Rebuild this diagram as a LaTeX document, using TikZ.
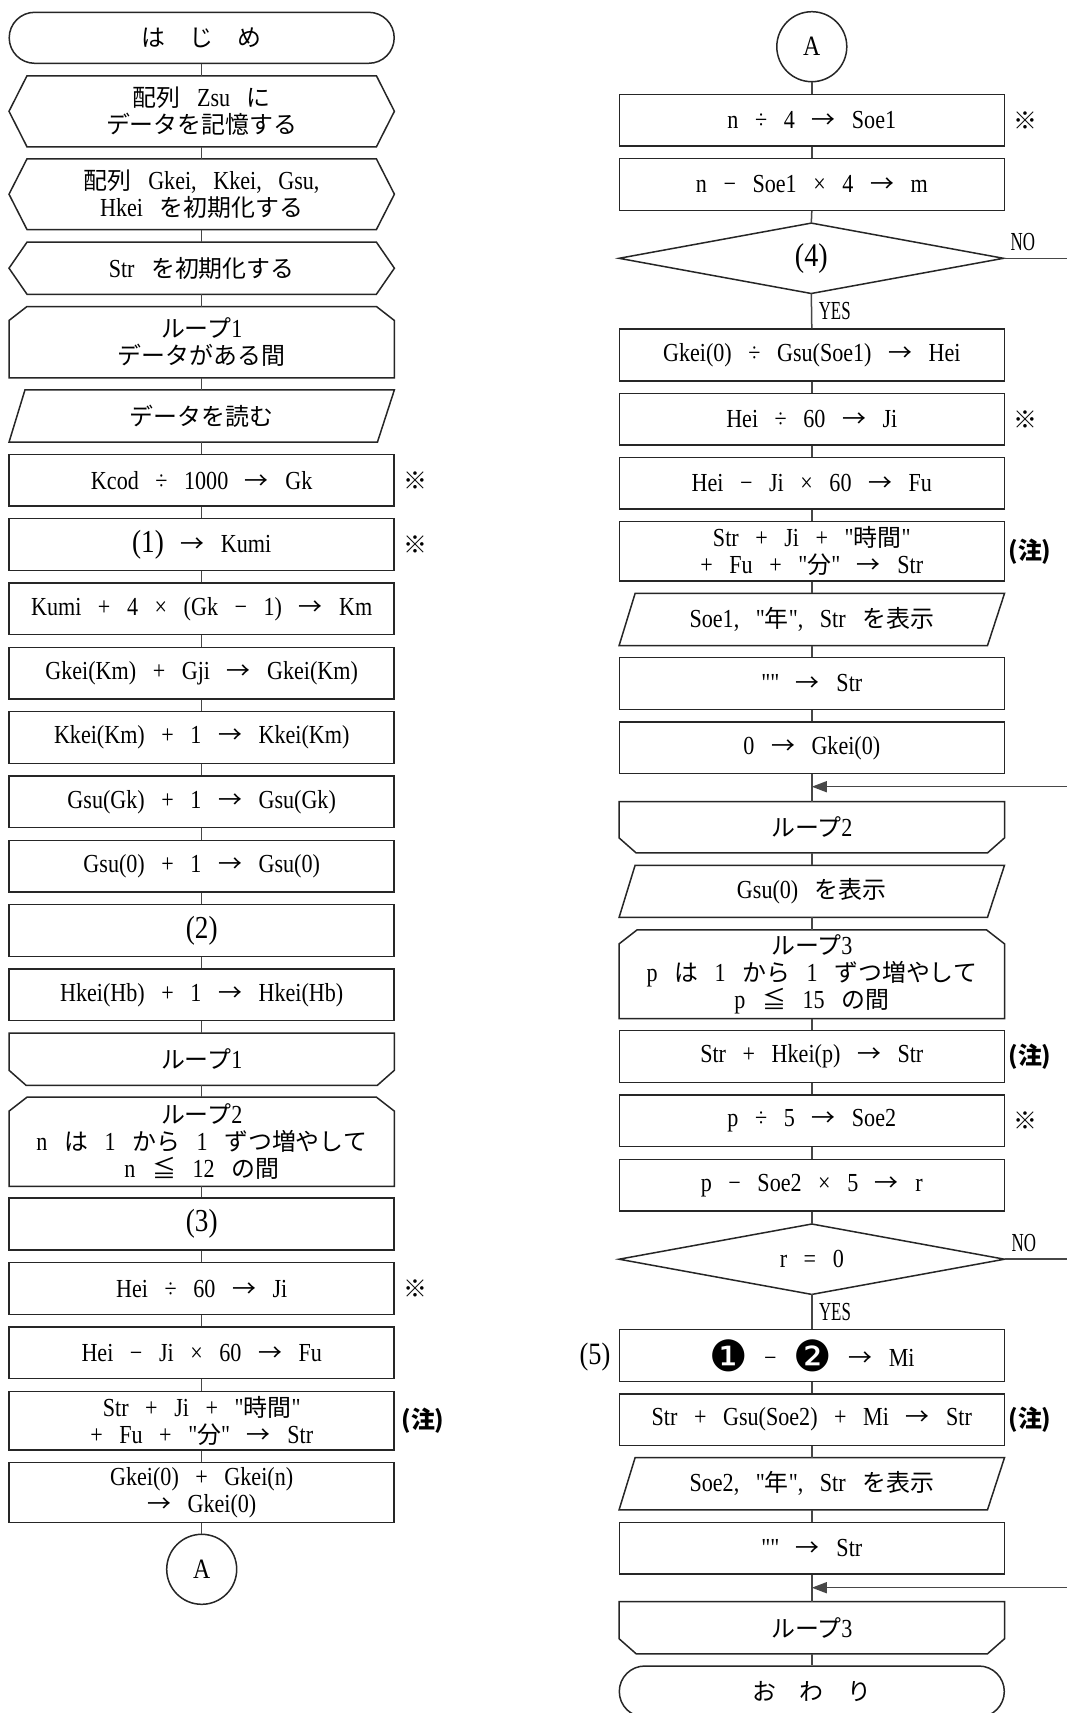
\documentclass[tikz,border=0pt]{standalone}
\usepackage{fontspec}
\setmainfont[FakeStretch=0.85,WordSpace=3,Ligatures=TeXOff]{Liberation Serif}
\newfontfamily\cjk[Scale=0.92]{Noto Sans CJK JP}
\newfontfamily\condf[FakeStretch=0.65]{Liberation Serif}
\newfontfamily\dingf{DejaVu Sans}
\usetikzlibrary{arrows.meta,calc}
\newcommand\jp[1]{{\cjk #1}}
\newcommand\ar{{\cjk →}}
\newcommand\dingnum[1]{\raisebox{-5pt}{\dingf\fontsize{43}{43}\selectfont #1}}
\newcommand\bignum[1]{{\fontsize{32}{32}\selectfont #1}}
\newcommand\shapeHex[1]{\draw[boxline] (#1.west) -- ([xshift=18pt]#1.north west) -- ([xshift=-18pt]#1.north east) -- (#1.east) -- ([xshift=-18pt]#1.south east) -- ([xshift=18pt]#1.south west) -- cycle;}
\newcommand\shapePar[1]{\draw[boxline] (#1.south west) -- ([xshift=16pt]#1.north west) -- (#1.north east) -- ([xshift=-17pt]#1.south east) -- cycle;}
\newcommand\shapeLoopS[1]{\draw[boxline] ([yshift=-14pt]#1.north west) -- ([xshift=18pt]#1.north west) -- ([xshift=-18pt]#1.north east) -- ([yshift=-14pt]#1.north east) -- (#1.south east) -- (#1.south west) -- cycle;}
\newcommand\shapeLoopE[1]{\draw[boxline] (#1.north west) -- (#1.north east) -- ([yshift=15pt]#1.south east) -- ([xshift=-17pt]#1.south east) -- ([xshift=17pt]#1.south west) -- ([yshift=15pt]#1.south west) -- cycle;}
\newcommand\shapeDia[1]{\draw[boxline] (#1.west) -- (#1.north) -- (#1.east) -- (#1.south) -- cycle;}
\tikzset{
  boxline/.style={draw=black!85, line width=1.5pt},
  conn/.style={draw=black!72, line width=1.5pt},
  blk/.style={inner sep=0pt, minimum width=385pt, minimum height=51.7pt, align=center, font={\fontsize{26}{27}\selectfont}},
  proc/.style={blk, boxline},
  term/.style={blk, boxline, rounded corners=25.5pt, minimum height=51pt},
  onpage/.style={circle, boxline, minimum size=70pt, inner sep=0pt, font={\fontsize{28}{28}\selectfont}},
  kome/.style={inner sep=0pt, font={\cjk\fontsize{26}{26}\selectfont}},
  chu/.style={inner sep=0pt, font={\cjk\bfseries\fontsize{26}{26}\selectfont}},
  yn/.style={inner sep=0pt, font={\condf\fontsize{26}{26}\selectfont}},
  retarrow/.style={conn, -{Triangle[length=15pt,width=11pt]}},
}
\begin{document}
\begin{tikzpicture}[x=1pt,y=-1pt]
\useasboundingbox[fill=white] (0,0) rectangle (1067,1713);
\coordinate (rim) at (1067,0);
% ---------------- left column ----------------
\node[term] (start) at (201.7,37.8) {\jp{は　じ　め}};
\node[blk, minimum height=70.7pt] (prep1) at (201.7,111.3) {\jp{配列} Zsu \jp{に}\\\jp{データを記憶する}};
\node[blk, minimum height=70.3pt] (prep2) at (201.7,194.2) {\jp{配列} Gkei, Kkei, Gsu,\\Hkei \jp{を初期化する}};
\node[blk] (prep3) at (201.7,268.2) {Str \jp{を初期化する}};
\node[blk, minimum height=71pt] (loop1s) at (201.7,342.2) {\jp{ループ}1\\\jp{データがある間}};
\node[blk, minimum height=52pt] (read) at (201.7,416) {\jp{データを読む}};
\node[proc] (kcod) at (201.7,480.2) {Kcod ÷ 1000 \ar{} Gk};
\node[proc] (kumi1) at (201.7,544.5) {\bignum{(1)} \ar{} Kumi};
\node[proc] (km) at (201.7,608.8) {Kumi + 4 × (Gk − 1) \ar{} Km};
\node[proc] (gkei) at (201.7,673.2) {Gkei(Km) + Gji \ar{} Gkei(Km)};
\node[proc] (kkei) at (201.7,737.5) {Kkei(Km) + 1 \ar{} Kkei(Km)};
\node[proc] (gsugk) at (201.7,801.8) {Gsu(Gk) + 1 \ar{} Gsu(Gk)};
\node[proc] (gsu0) at (201.7,866.2) {Gsu(0) + 1 \ar{} Gsu(0)};
\node[proc] (b2) at (201.7,930.5) {\bignum{(2)}};
\node[proc] (hkei) at (201.7,994.8) {Hkei(Hb) + 1 \ar{} Hkei(Hb)};
\node[blk] (loop1e) at (201.7,1059.2) {\jp{ループ}1};
\node[blk, minimum height=88.7pt] (loop2s) at (201.7,1141.7) {\jp{ループ}2\\n \jp{は} 1 \jp{から} 1 \jp{ずつ増やして}\\n \jp{≦} 12 \jp{の間}};
\node[proc] (b3) at (201.7,1224) {\bignum{(3)}};
\node[proc] (hei) at (201.7,1288.5) {Hei ÷ 60 \ar{} Ji};
\node[proc] (heiji) at (201.7,1352.8) {Hei − Ji × 60 \ar{} Fu};
\node[proc, minimum height=58.7pt] (strji) at (201.7,1420.7) {Str + Ji + "\jp{時間}"\\+ Fu + "\jp{分}" \ar{} Str};
\node[proc, minimum height=59.6pt] (gkeisum) at (201.7,1492.5) {Gkei(0) + Gkei(n)\\\ar{} Gkei(0)};
\node[onpage] (ca) at (201.7,1569.3) {A};
\shapeHex{prep1}\shapeHex{prep2}\shapeHex{prep3}
\shapeLoopS{loop1s}\shapeLoopS{loop2s}\shapeLoopE{loop1e}
\shapePar{read}
\foreach \a/\b in {start/prep1,prep1/prep2,prep2/prep3,prep3/loop1s,loop1s/read,read/kcod,kcod/kumi1,kumi1/km,km/gkei,gkei/kkei,kkei/gsugk,gsugk/gsu0,gsu0/b2,b2/hkei,hkei/loop1e,loop1e/loop2s,loop2s/b3,b3/hei,hei/heiji,heiji/strji,strji/gkeisum,gkeisum/ca}
  \draw[conn] (\a.south) -- (\b.north);
\node[kome] (m1) at (415.7,480.2) {※};
\node[kome] (m2) at (415.7,544.5) {※};
\node[kome] (m3) at (415.7,1288.5) {※};
\node[chu] (c1) at (423,1421) {(注)};
% ---------------- right column ----------------
\node[onpage] (cb) at (811.8,46.7) {A};
\node[proc] (soe1) at (811.8,120.2) {n ÷ 4 \ar{} Soe1};
\node[proc] (mm) at (811.8,184.5) {n − Soe1 × 4 \ar{} m};
\node[blk, minimum width=384pt, minimum height=70pt] (d4) at (811.3,258.3) {{\fontsize{33}{33}\selectfont (4)}};
\node[proc] (hei2) at (811.8,355) {Gkei(0) ÷ Gsu(Soe1) \ar{} Hei};
\node[proc] (ji2) at (811.8,419.2) {Hei ÷ 60 \ar{} Ji};
\node[proc] (fu2) at (811.8,483.2) {Hei − Ji × 60 \ar{} Fu};
\node[proc, minimum height=59.3pt] (str2) at (811.8,551.3) {Str + Ji + "\jp{時間}"\\+ Fu + "\jp{分}" \ar{} Str};
\node[blk] (disp1) at (811.8,619.5) {Soe1, "\jp{年}", Str \jp{を表示}};
\node[proc] (emp1) at (811.8,683.5) {"" \ar{} Str};
\node[proc] (zero) at (811.8,747.8) {0 \ar{} Gkei(0)};
\node[blk, minimum height=51pt] (loop2e) at (811.8,827.2) {\jp{ループ}2};
\node[blk] (disp2) at (811.8,891.3) {Gsu(0) \jp{を表示}};
\node[blk, minimum height=88.3pt] (loop3s) at (811.8,974.2) {\jp{ループ}3\\p \jp{は} 1 \jp{から} 1 \jp{ずつ増やして}\\p \jp{≦} 15 \jp{の間}};
\node[proc] (strh) at (811.8,1056.5) {Str + Hkei(p) \ar{} Str};
\node[proc] (p5) at (811.8,1120.8) {p ÷ 5 \ar{} Soe2};
\node[proc] (rr) at (811.8,1185.2) {p − Soe2 × 5 \ar{} r};
\node[blk, minimum width=385pt, minimum height=70pt] (d5) at (811.8,1259.2) {r = 0};
\node[proc] (mi) at (811.8,1355.5) {\dingnum{❶} − \dingnum{❷} \ar{} Mi};
\node[proc] (strgsu) at (811.8,1419.7) {Str + Gsu(Soe2) + Mi \ar{} Str};
\node[blk] (disp3) at (811.8,1483.7) {Soe2, "\jp{年}", Str \jp{を表示}};
\node[proc] (emp2) at (811.8,1548.3) {"" \ar{} Str};
\node[blk] (loop3e) at (811.8,1627.7) {\jp{ループ}3};
\node[term] (fin) at (811.8,1691.5) {\jp{お　わ　り}};
\shapeDia{d4}\shapeDia{d5}
\shapePar{disp1}\shapePar{disp2}\shapePar{disp3}
\shapeLoopE{loop2e}\shapeLoopE{loop3e}\shapeLoopS{loop3s}
\foreach \a/\b in {cb/soe1,soe1/mm,mm/d4,d4/hei2,hei2/ji2,ji2/fu2,fu2/str2,str2/disp1,disp1/emp1,emp1/zero,zero/loop2e,loop2e/disp2,disp2/loop3s,loop3s/strh,strh/p5,p5/rr,rr/d5,d5/mi,mi/strgsu,strgsu/disp3,disp3/emp2,emp2/loop3e,loop3e/fin}
  \draw[conn] (\a.south) -- (\b.north);
% NO branches and returns
\draw[conn] (d4.east) -- (d4.east -| rim);
\draw[conn] (d5.east) -- (d5.east -| rim);
\coordinate (ret1) at (1067,786.7);
\coordinate (ret2) at (1067,1587.7);
\draw[retarrow] (ret1) -- (ret1 -| zero.south);
\draw[retarrow] (ret2) -- (ret2 -| emp2.south);
\node[yn, anchor=base west] (no1) at ([xshift=7pt,yshift=8pt]d4.east) {NO};
\node[yn, anchor=base west] (no2) at ([xshift=7pt,yshift=8pt]d5.east) {NO};
\node[yn, anchor=west] (yes1) at ([xshift=7pt]$(d4.south)!0.5!(hei2.north)$) {YES};
\node[yn, anchor=west] (yes2) at ([xshift=7pt]$(d5.south)!0.5!(mi.north)$) {YES};
\node[kome] (m4) at (1025,120.2) {※};
\node[kome] (m5) at (1025,419.2) {※};
\node[kome] (m6) at (1025,1120.8) {※};
\node[chu] (c2) at (1030,551.3) {(注)};
\node[chu] (c3) at (1030,1056.5) {(注)};
\node[chu] (c4) at (1030,1419.7) {(注)};
\node[inner sep=0pt, font={\fontsize{31}{31}\selectfont}] (l5) at (595,1356.7) {(5)};
\end{tikzpicture}
\end{document}
